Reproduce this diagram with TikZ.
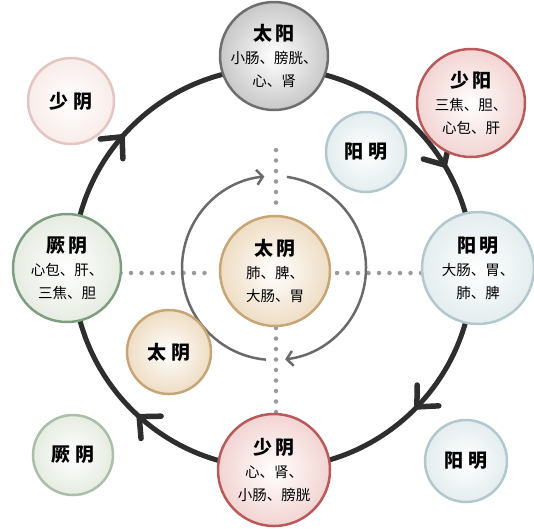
\documentclass[tikz,border=0pt]{standalone}
\usepackage{fontspec}
\newfontfamily\cjk{Noto Sans CJK SC}
\usetikzlibrary{arrows.meta,calc}
\definecolor{ringdark}{HTML}{2E2E2E}
\definecolor{ringgray}{HTML}{6A6A6A}
\definecolor{dotgray}{HTML}{9A9A9A}
\definecolor{grayrim}{HTML}{6E6E6E}
\definecolor{grayfill}{HTML}{C8C8C8}
\definecolor{redrim}{HTML}{B85A5A}
\definecolor{redfill}{HTML}{F2D4D2}
\definecolor{pinkrim}{HTML}{E3C6C2}
\definecolor{pinkfill}{HTML}{F8ECEA}
\definecolor{bluerim}{HTML}{B3C8CE}
\definecolor{bluefill}{HTML}{E4EDEF}
\definecolor{greenrim}{HTML}{7F9E80}
\definecolor{greenfill}{HTML}{E6ECE2}
\definecolor{greenpale}{HTML}{A9BFA8}
\definecolor{tanrim}{HTML}{C8A577}
\definecolor{tanfill}{HTML}{EEDDC4}
\begin{document}
\begin{tikzpicture}[x=1pt,y=1pt,
  ball/.style 2 args={circle, inner sep=0pt, align=center, line width=2.5pt,
    draw=#1, inner color=white, outer color=#2,
    font=\cjk\fontsize{14.5}{23}\selectfont},
  big/.style={minimum size=108pt},
  small/.style={minimum size=82pt},
  dotline/.style={dotgray, line width=4.5pt, line cap=round, dash pattern=on 0pt off 10.5pt},
  bigring/.style={ringdark, line width=5pt},
  chevron/.style={ringdark, line width=5.5pt, line cap=round, line join=round},
  innerring/.style={ringgray, line width=2.5pt},
]
\useasboundingbox (0,0) rectangle (534,-528);
\newcommand{\ttlfont}{\fontsize{19}{23}\selectfont\bfseries}

% centres
\coordinate (C) at (273,-268);
\coordinate (I) at (274,-268);

% dotted cross
\coordinate (vt1) at (276,-150);
\coordinate (vt2) at (276,-206);
\coordinate (vb1) at (276,-328);
\coordinate (vb2) at (276,-414);
\coordinate (hl1) at (110,-273);
\coordinate (hl2) at (214,-273);
\coordinate (hr1) at (337,-273);
\coordinate (hr2) at (425,-273);
\draw[dotline] (vt1) -- (vt2);
\draw[dotline] (vb1) -- (vb2);
\draw[dotline] (hl1) -- (hl2);
\draw[dotline] (hr1) -- (hr2);

% big ring
\draw[bigring] (C) circle[radius=200];
% arrowheads (clockwise direction)
\foreach \a in {139,31,-44,-132}{
  \begin{scope}[shift={($(C)+(\a:200)$)}, rotate=\a-90]
    \draw[chevron] (-16,15) -- (0,0) -- (-16,-15);
  \end{scope}
}

% inner ring, two clockwise halves
\draw[innerring, -{Straight Barb[length=6pt,width=15pt]}]
  (I) ++(-95:92) arc[start angle=-95, end angle=-264, radius=92];
\draw[innerring, -{Straight Barb[length=6pt,width=15pt]}]
  (I) ++(82:92) arc[start angle=82, end angle=-83, radius=92];

% main nodes
\node[ball={grayrim}{grayfill}, big] (taiyang) at (274,-56)
  {{\ttlfont 太\hspace{4pt}阳}\\小肠、膀胱、\\心、肾};
\node[ball={redrim}{redfill}, big] (shaoyang) at (471,-103)
  {{\ttlfont 少\hspace{4pt}阳}\\三焦、胆、\\心包、肝};
\node[ball={bluerim}{bluefill}, big, minimum size=112pt] (yangming) at (478,-268)
  {{\ttlfont 阳\hspace{4pt}明}\\大肠、胃、\\肺、脾};
\node[ball={redrim}{redfill}, big, minimum size=112pt] (shaoyin) at (274,-470)
  {{\ttlfont 少\hspace{4pt}阴}\\心、肾、\\小肠、膀胱};
\node[ball={greenrim}{greenfill}, big] (jueyin) at (67,-268)
  {{\ttlfont 厥\hspace{4pt}阴}\\心包、肝、\\三焦、胆};
\node[ball={tanrim}{tanfill}, big, minimum size=110pt] (taiyin) at (275,-271)
  {{\ttlfont 太\hspace{4pt}阴}\\肺、脾、\\大肠、胃};

% small nodes
\node[ball={pinkrim}{pinkfill}, small, minimum size=86pt] (shaoyinS) at (71,-101)
  {\ttlfont 少\hspace{6pt}阴};
\node[ball={bluerim}{bluefill}, small, minimum size=80pt] (yangmingS1) at (366,-152)
  {\ttlfont 阳\hspace{6pt}明};
\node[ball={tanrim}{tanfill}, small, minimum size=84pt] (taiyinS) at (169,-352)
  {\ttlfont 太\hspace{6pt}阴};
\node[ball={greenpale}{greenfill}, small, minimum size=80pt] (jueyinS) at (73,-455)
  {\ttlfont 厥\hspace{6pt}阴};
\node[ball={bluerim}{bluefill}, small, minimum size=82pt] (yangmingS2) at (466,-461)
  {\ttlfont 阳\hspace{6pt}明};
\end{tikzpicture}
\end{document}
